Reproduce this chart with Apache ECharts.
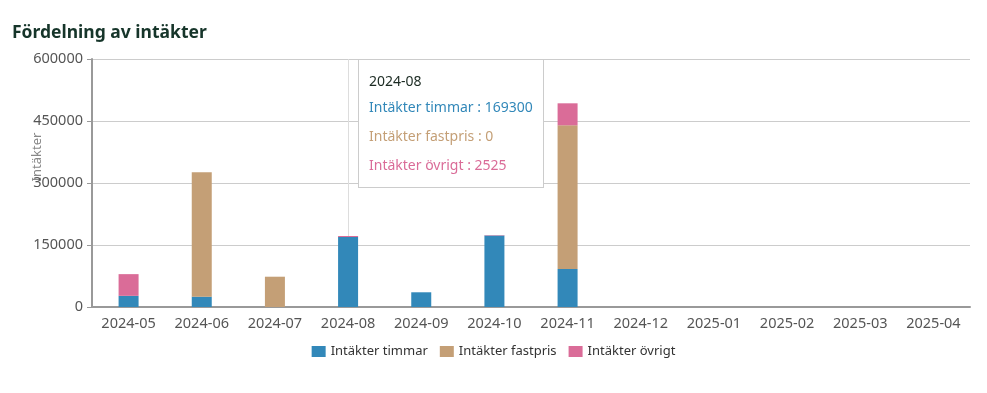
<!DOCTYPE html>
<html>
<head>
<meta charset="utf-8">
<script src="https://cdn.jsdelivr.net/npm/echarts@6/dist/echarts.min.js"></script>
<style>
html,body{margin:0;padding:0;background:#fff;}
#chart{width:987px;height:393px;}
</style>
</head>
<body>
<div id="chart"></div>
<script>
const categories = ['2024-05','2024-06','2024-07','2024-08','2024-09','2024-10','2024-11','2024-12','2025-01','2025-02','2025-03','2025-04'];
const timmar   = [27000, 25000, 0, 169300, 35600, 173000, 92000, 0, 0, 0, 0, 0];
const fastpris = [0, 301000, 73300, 0, 0, 0, 347600, 0, 0, 0, 0, 0];
const ovrigt   = [52500, 0, 0, 2525, 0, 1000, 53200, 0, 0, 0, 0, 0];
const seriesNames = ['Intäkter timmar','Intäkter fastpris','Intäkter övrigt'];
const colors = ['#3288b9','#c49f76','#da6c98'];
const yTicks = [0,150000,300000,450000,600000];

const FONT = '"Noto Sans", sans-serif';
const CSSFONT = "'Noto Sans', sans-serif";
const chart = echarts.init(document.getElementById('chart'));
const seriesData = [timmar, fastpris, ovrigt];
chart.setOption({
  animation: false,
  textStyle: {fontFamily: FONT},
  title: {
    text: 'Fördelning av intäkter',
    left: 7, top: 19,
    textStyle: {fontFamily: FONT, fontSize: 17.5, fontWeight: 'bold', color: '#16352a'}
  },
  color: colors,
  grid: {left: 92, right: 17, top: 59, bottom: 86, containLabel: false},
  legend: {
    bottom: 30, left: 'center',
    itemWidth: 14, itemHeight: 11, itemGap: 12,
    icon: 'rect',
    textStyle: {fontFamily: FONT, fontSize: 13, color: '#333'},
    data: seriesNames
  },
  tooltip: {
    trigger: 'axis',
    triggerOn: 'none',
    alwaysShowContent: true,
    position: [358, 59],
    backgroundColor: '#fff',
    borderColor: '#ccc',
    borderWidth: 1,
    borderRadius: 0,
    padding: [10, 10, 8, 10],
    extraCssText: 'box-shadow:none;',
    axisPointer: {type: 'line', z: 0, lineStyle: {color: '#ddd', width: 1, type: 'solid'}},
    formatter: function (params) {
      let html = '<div style="font-family:' + CSSFONT + ';font-size:14px;line-height:22px;color:#1b2a22;width:155px">' + params[0].axisValue + '</div>';
      params.forEach(p => {
        html += '<div style="font-family:' + CSSFONT + ';font-size:14px;line-height:29px;color:' + p.color + '">' + p.seriesName + ' : ' + p.value + '</div>';
      });
      return html;
    }
  },
  xAxis: {
    type: 'category',
    data: categories,
    axisLine: {lineStyle: {color: '#999', width: 2}},
    axisTick: {alignWithLabel: true, lineStyle: {color: '#999'}, length: 5},
    axisLabel: {color: '#555', fontSize: 14.5, fontFamily: FONT, margin: 9}
  },
  yAxis: {
    type: 'value',
    min: 0, max: 600000, interval: 150000,
    name: 'Intäkter',
    nameLocation: 'middle',
    nameGap: 48,
    nameMoveOverlap: false,
    nameTextStyle: {color: '#888', fontSize: 13, fontFamily: FONT, padding: [0, 0, 0, 52]},
    axisLine: {show: true, lineStyle: {color: '#999', width: 2}},
    axisTick: {show: true, lineStyle: {color: '#999'}, length: 5},
    axisLabel: {color: '#555', fontSize: 14.5, fontFamily: FONT, margin: 9,
      formatter: v => yTicks.includes(v) ? String(v) : ''},
    splitLine: {lineStyle: {color: '#ccc'}}
  },
  series: seriesNames.map((n, i) => ({
    name: n,
    type: 'bar',
    stack: 'total',
    barWidth: 20,
    z: 5,
    data: seriesData[i],
    itemStyle: {color: colors[i]},
    emphasis: {disabled: true}
  }))
});
chart.dispatchAction({type: 'showTip', seriesIndex: 0, dataIndex: 3});
</script>
</body>
</html>
